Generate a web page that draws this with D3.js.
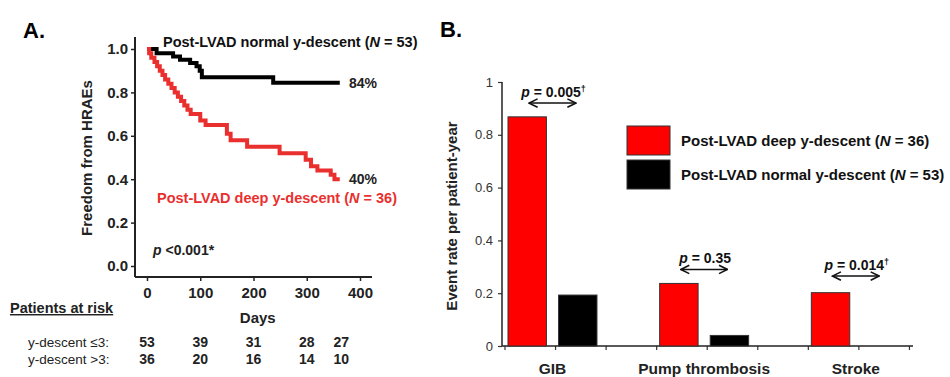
<!DOCTYPE html>
<html>
<head>
<meta charset="utf-8">
<script src="https://cdn.jsdelivr.net/npm/d3@7"></script>
<style>
	body { margin: 0; background: #fff; }
	svg text { font-family: Arial, "Liberation Sans", sans-serif; }
</style>
</head>
<body>
<div id="chart"></div>
<script>
// panel A: Kaplan-Meier steps, [day, freedom from HRAEs]
var normalSteps = [[0, 1], [18, 0.98], [49, 0.965], [62, 0.95], [81, 0.935], [93, 0.92],
	[99, 0.90], [103, 0.87], [237, 0.845], [362, 0.845]];
var deepSteps = [[0, 1], [4, 0.98], [8, 0.96], [14, 0.94], [19, 0.92], [24, 0.90], [29, 0.88],
	[34, 0.86], [40, 0.84], [46, 0.82], [52, 0.80], [58, 0.78], [64, 0.76], [70, 0.74],
	[76, 0.72], [82, 0.70], [100, 0.67], [110, 0.65], [150, 0.61], [157, 0.58], [188, 0.55],
	[249, 0.52], [298, 0.49], [308, 0.46], [320, 0.44], [345, 0.42], [352, 0.40], [362, 0.40]];
var riskDays = [0, 100, 200, 300, 365];
var riskNormal = [53, 39, 31, 28, 27];
var riskDeep = [36, 20, 16, 14, 10];
var daysTicks = [0, 100, 200, 300, 400];
var freedomTicks = [0, 0.2, 0.4, 0.6, 0.8, 1.0];

// panel B: event rate per patient-year
var categories = ['GIB', 'Pump thrombosis', 'Stroke'];
var deepRates = [0.868, 0.237, 0.202];
var normalRates = [0.193, 0.04, 0];
var pLabels = ['p = 0.005', 'p = 0.35', 'p = 0.014'];
var pDagger = [true, false, true];
var pLevels = [0.92, 0.29, 0.265];
var rateTicks = [0, 0.2, 0.4, 0.6, 0.8, 1];

var red = '#ea2f2f';
var W = 950, H = 377;

var svg = d3.select('#chart').append('svg')
	.attr('width', W)
	.attr('height', H);
svg.append('rect').attr('width', W).attr('height', H).attr('fill', '#fff');

// ---------- panel A ----------
var xA = d3.scaleLinear().domain([0, 400]).range([147, 360]);
var yA = d3.scaleLinear().domain([0, 1]).range([266, 49]);
var axLeftA = 135, axBottomA = 277;

svg.append('text').attr('x', 23).attr('y', 38)
	.attr('font-size', 22).attr('font-weight', 'bold').text('A.');

var gyA = svg.append('g')
	.attr('transform', 'translate(' + axLeftA + ',0)')
	.call(d3.axisLeft(yA).tickValues(freedomTicks).tickFormat(d3.format('.1f'))
		.tickSize(4).tickPadding(3).tickSizeOuter(0));
var gxA = svg.append('g')
	.attr('transform', 'translate(0,' + axBottomA + ')')
	.call(d3.axisBottom(xA).tickValues(daysTicks).tickSize(4).tickPadding(6).tickSizeOuter(0));
[gyA, gxA].forEach(function(g){
	g.select('.domain').remove();
	g.selectAll('line').attr('stroke', '#222').attr('stroke-width', 1.5);
	g.selectAll('text').attr('font-size', 15).attr('font-weight', 'bold').attr('fill', '#222');
});
svg.append('line').attr('x1', axLeftA).attr('x2', axLeftA).attr('y1', 37).attr('y2', axBottomA)
	.attr('stroke', '#222').attr('stroke-width', 2);
svg.append('line').attr('x1', axLeftA).attr('x2', 372).attr('y1', axBottomA).attr('y2', axBottomA)
	.attr('stroke', '#222').attr('stroke-width', 2);

var kmLine = d3.line()
	.x(function(d){ return xA(d[0]); })
	.y(function(d){ return yA(d[1]); })
	.curve(d3.curveStepAfter);
svg.append('path').datum(normalSteps).attr('d', kmLine)
	.attr('fill', 'none').attr('stroke', '#000').attr('stroke-width', 4);
svg.append('path').datum(deepSteps).attr('d', kmLine)
	.attr('fill', 'none').attr('stroke', red).attr('stroke-width', 4);

function nLabel(sel, pre, n){
	sel.append('tspan').text(pre);
	sel.append('tspan').attr('font-style', 'italic').text('N');
	sel.append('tspan').text(' = ' + n + ')');
}
nLabel(svg.append('text').attr('x', 163).attr('y', 47)
	.attr('font-size', 14.5).attr('font-weight', 'bold').attr('fill', '#111'),
	'Post-LVAD normal y-descent (', 53);
nLabel(svg.append('text').attr('x', 157).attr('y', 203)
	.attr('font-size', 14.5).attr('font-weight', 'bold').attr('fill', red),
	'Post-LVAD deep y-descent (', 36);

var lastN = normalSteps[normalSteps.length - 1], lastD = deepSteps[deepSteps.length - 1];
svg.append('text').attr('x', 349).attr('y', yA(lastN[1]) + 5)
	.attr('font-size', 14).attr('font-weight', 'bold').attr('fill', '#222')
	.text(Math.round(lastN[1] * 100 - 0.5) + '%');
svg.append('text').attr('x', 349).attr('y', yA(lastD[1]) + 5)
	.attr('font-size', 14).attr('font-weight', 'bold').attr('fill', '#222')
	.text(Math.round(lastD[1] * 100) + '%');

var pA = svg.append('text').attr('x', 153).attr('y', 255)
	.attr('font-size', 14).attr('font-weight', 'bold').attr('fill', '#222');
pA.append('tspan').attr('font-style', 'italic').text('p');
pA.append('tspan').text(' <0.001*');

svg.append('text')
	.attr('transform', 'translate(92,158) rotate(-90)')
	.attr('text-anchor', 'middle')
	.attr('font-size', 15).attr('font-weight', 'bold').attr('fill', '#222')
	.text('Freedom from HRAEs');
svg.append('text').attr('x', xA(208)).attr('y', 323).attr('text-anchor', 'middle')
	.attr('font-size', 15).attr('font-weight', 'bold').attr('fill', '#222').text('Days');

svg.append('text').attr('x', 10).attr('y', 313)
	.attr('font-size', 14.5).attr('font-weight', 'bold').attr('fill', '#222')
	.attr('text-decoration', 'underline').text('Patients at risk');
svg.append('text').attr('x', 28).attr('y', 346.5).attr('font-size', 13.5).attr('fill', '#222')
	.text('y-descent \u22643:');
svg.append('text').attr('x', 28).attr('y', 363.5).attr('font-size', 13.5).attr('fill', '#222')
	.text('y-descent >3:');
[[riskNormal, 346.5], [riskDeep, 363.5]].forEach(function(row){
	svg.append('g').selectAll('text')
		.data(row[0])
		.enter().append('text')
		.attr('x', function(d, i){ return xA(riskDays[i]); })
		.attr('y', row[1])
		.attr('text-anchor', 'middle')
		.attr('font-size', 14).attr('font-weight', 'bold').attr('fill', '#222')
		.text(function(d){ return d; });
});

// ---------- panel B ----------
var slots = ['deep', 'normal', 'gap'];
var x0 = d3.scaleBand().domain(categories).range([505, 960]);
var x1 = d3.scaleBand().domain(slots).range([0, x0.bandwidth()]);
var yB = d3.scaleLinear().domain([0, 1]).range([346, 82]);
var barW = x1.bandwidth() * 0.76;
var axLeftB = 502;

svg.append('text').attr('x', 440).attr('y', 37)
	.attr('font-size', 22).attr('font-weight', 'bold').text('B.');

var gyB = svg.append('g')
	.attr('transform', 'translate(' + axLeftB + ',0)')
	.call(d3.axisLeft(yB).tickValues(rateTicks)
		.tickFormat(function(d){ return +d.toFixed(1); })
		.tickSize(4).tickPadding(5).tickSizeOuter(0));
gyB.select('.domain').remove();
gyB.selectAll('line').attr('stroke', '#333').attr('stroke-width', 1.2);
gyB.selectAll('text').attr('font-size', 13).attr('fill', '#333');
svg.append('line').attr('x1', axLeftB).attr('x2', axLeftB).attr('y1', yB(1)).attr('y2', yB(0))
	.attr('stroke', '#222').attr('stroke-width', 1.5);

// slot ticks along the bottom axis
var slotEdges = [];
categories.forEach(function(c){
	slots.forEach(function(s){ slotEdges.push(x0(c) + x1(s)); });
});
slotEdges = slotEdges.filter(function(x){ return x < 915; });
svg.append('g').selectAll('line')
	.data(slotEdges)
	.enter().append('line')
	.attr('x1', function(d){ return d; }).attr('x2', function(d){ return d; })
	.attr('y1', yB(0)).attr('y2', yB(0) + 4)
	.attr('stroke', '#333').attr('stroke-width', 1.2);
svg.append('line').attr('x1', axLeftB).attr('x2', 913).attr('y1', yB(0)).attr('y2', yB(0))
	.attr('stroke', '#222').attr('stroke-width', 1.5);

var barData = [];
categories.forEach(function(c, i){
	barData.push({cat: c, s: 'deep', v: deepRates[i]});
	barData.push({cat: c, s: 'normal', v: normalRates[i]});
});
svg.append('g').selectAll('rect')
	.data(barData.filter(function(d){ return d.v > 0; }))
	.enter().append('rect')
	.attr('x', function(d){ return x0(d.cat) + x1(d.s) + 3; })
	.attr('y', function(d){ return yB(d.v); })
	.attr('width', barW)
	.attr('height', function(d){ return yB(0) - yB(d.v); })
	.attr('fill', function(d){ return d.s == 'deep' ? '#ff0000' : '#000'; })
	.attr('stroke', '#333').attr('stroke-width', 1);

// category labels centred under each red/black pair
svg.append('g').selectAll('text')
	.data(categories)
	.enter().append('text')
	.attr('x', function(d){ return x0(d) + 3 + (x1.step() + barW) / 2; })
	.attr('y', 374)
	.attr('text-anchor', 'middle')
	.attr('font-size', 15.5).attr('font-weight', 'bold').attr('fill', '#222')
	.text(function(d){ return d; });

svg.append('text')
	.attr('transform', 'translate(457,216) rotate(-90)')
	.attr('text-anchor', 'middle')
	.attr('font-size', 15).attr('font-weight', 'bold').attr('fill', '#222')
	.text('Event rate per patient-year');

// p-value annotations with double-headed arrows
var defs = svg.append('defs');
['arrEnd', 'arrStart'].forEach(function(id, k){
	defs.append('marker').attr('id', id)
		.attr('viewBox', '0 0 10 10').attr('refX', 9).attr('refY', 5)
		.attr('markerWidth', 7).attr('markerHeight', 7)
		.attr('orient', k == 0 ? 'auto' : 'auto-start-reverse')
		.append('path').attr('d', 'M1,1 L9,5 L1,9')
		.attr('fill', 'none').attr('stroke', '#111').attr('stroke-width', 1.5);
});
categories.forEach(function(c, i){
	var xa = x0(c) + x1('deep') + 3 + barW / 2;
	var xb = x0(c) + x1('normal') + 3 + barW / 2;
	var ya = yB(pLevels[i]);
	svg.append('line').attr('x1', xa + 2).attr('x2', xb - 2).attr('y1', ya).attr('y2', ya)
		.attr('stroke', '#111').attr('stroke-width', 1.5)
		.attr('marker-end', 'url(#arrEnd)').attr('marker-start', 'url(#arrStart)');
	var t = svg.append('text').attr('x', (xa + xb) / 2 + 1).attr('y', ya - 6)
		.attr('text-anchor', 'middle')
		.attr('font-size', 14).attr('font-weight', 'bold').attr('fill', '#111');
	t.append('tspan').attr('font-style', 'italic').text('p');
	t.append('tspan').text(pLabels[i].slice(1));
	if(pDagger[i]){
		t.append('tspan').attr('font-size', 9).attr('dy', -5).text('\u2020');
	}
});

// legend
var legend = svg.append('g').attr('transform', 'translate(627,126)');
[['#ff0000', 'Post-LVAD deep y-descent (', 36], ['#000', 'Post-LVAD normal y-descent (', 53]]
	.forEach(function(item, i){
		legend.append('rect').attr('x', 0).attr('y', i * 34)
			.attr('width', 43).attr('height', 29)
			.attr('fill', item[0]).attr('stroke', '#333').attr('stroke-width', 1);
		nLabel(legend.append('text').attr('x', 54).attr('y', i * 34 + 20)
			.attr('font-size', 15).attr('font-weight', 'bold').attr('fill', '#111'),
			item[1], item[2]);
	});
</script>
</body>
</html>
